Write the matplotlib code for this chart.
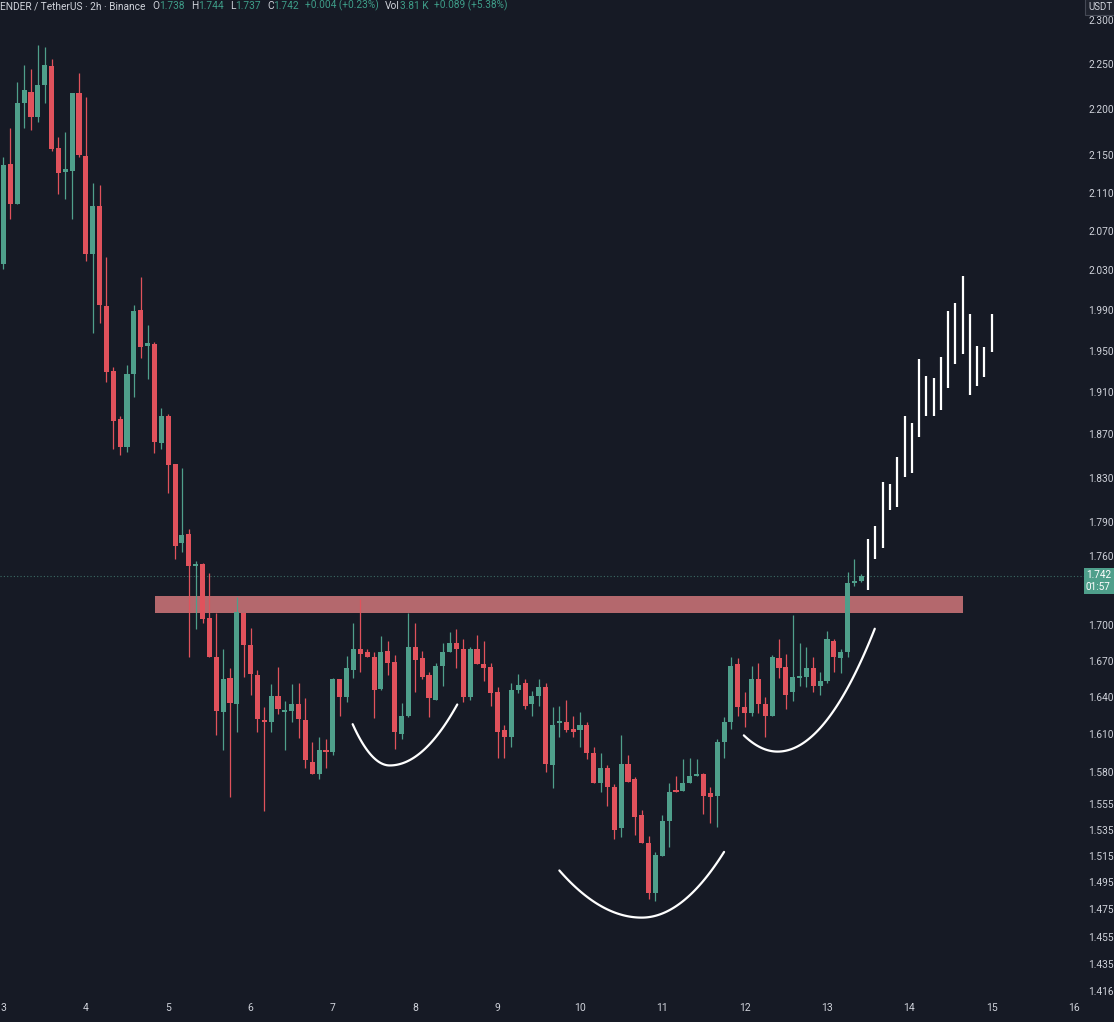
import numpy as np
import matplotlib
matplotlib.use("Agg")
import matplotlib.pyplot as plt
from matplotlib.ticker import FixedLocator, NullLocator, NullFormatter, FuncFormatter
from matplotlib.transforms import blended_transform_factory

# RENDER/USDT 2h candles, starting on day 3
opens = [2.036, 2.140, 2.098, 2.207, 2.219, 2.191, 2.226, 2.248, 2.158, 2.132,
         2.133, 2.218, 2.149, 2.046, 2.096, 1.994, 1.930, 1.884, 1.858, 1.927,
         1.990, 1.954, 1.956, 1.862, 1.887, 1.843, 1.771, 1.779, 1.751, 1.753,
         1.706, 1.673, 1.628, 1.656, 1.634, 1.710, 1.683, 1.658, 1.621, 1.620,
         1.641, 1.628, 1.629, 1.634, 1.621, 1.588, 1.578, 1.597, 1.596, 1.655,
         1.640, 1.662, 1.680, 1.677, 1.673, 1.647, 1.678, 1.669, 1.610, 1.625,
         1.682, 1.672, 1.658, 1.638, 1.666, 1.677, 1.685, 1.680, 1.640, 1.680,
         1.667, 1.665, 1.644, 1.613, 1.608, 1.646, 1.652, 1.634, 1.641, 1.648,
         1.585, 1.619, 1.620, 1.614, 1.613, 1.617, 1.595, 1.571, 1.583, 1.568,
         1.536, 1.586, 1.574, 1.546, 1.525, 1.487, 1.515, 1.542, 1.566, 1.565,
         1.571, 1.577, 1.578, 1.563, 1.561, 1.604, 1.620, 1.667, 1.632, 1.627,
         1.655, 1.634, 1.625, 1.672, 1.665, 1.644, 1.656, 1.657, 1.664, 1.649,
         1.653, 1.687, 1.672, 1.677, 1.736, 1.738]
highs = [2.148, 2.179, 2.230, 2.249, 2.244, 2.272, 2.269, 2.256, 2.169, 2.175,
         2.218, 2.240, 2.213, 2.120, 2.118, 2.043, 1.934, 1.887, 1.936, 1.995,
         2.023, 1.975, 1.958, 1.895, 1.889, 1.843, 1.839, 1.784, 1.755, 1.754,
         1.745, 1.710, 1.680, 1.664, 1.724, 1.710, 1.698, 1.662, 1.632, 1.651,
         1.665, 1.637, 1.651, 1.652, 1.639, 1.604, 1.608, 1.606, 1.656, 1.655,
         1.674, 1.702, 1.722, 1.680, 1.677, 1.691, 1.687, 1.675, 1.635, 1.710,
         1.702, 1.678, 1.661, 1.668, 1.685, 1.694, 1.697, 1.688, 1.682, 1.692,
         1.687, 1.668, 1.648, 1.617, 1.652, 1.659, 1.655, 1.645, 1.655, 1.652,
         1.632, 1.633, 1.638, 1.625, 1.628, 1.620, 1.600, 1.595, 1.585, 1.570,
         1.609, 1.593, 1.576, 1.550, 1.530, 1.518, 1.546, 1.571, 1.577, 1.590,
         1.591, 1.590, 1.579, 1.568, 1.606, 1.624, 1.673, 1.672, 1.644, 1.666,
         1.668, 1.640, 1.675, 1.688, 1.676, 1.709, 1.685, 1.682, 1.673, 1.661,
         1.695, 1.688, 1.680, 1.746, 1.757, 1.744]
lows = [2.031, 2.082, 2.098, 2.179, 2.177, 2.186, 2.207, 2.154, 2.109, 2.103,
        2.082, 2.148, 2.039, 1.967, 1.977, 1.920, 1.856, 1.851, 1.854, 1.905,
        1.943, 1.922, 1.853, 1.856, 1.816, 1.757, 1.763, 1.673, 1.697, 1.702,
        1.673, 1.609, 1.597, 1.560, 1.612, 1.657, 1.642, 1.612, 1.549, 1.612,
        1.626, 1.597, 1.620, 1.607, 1.583, 1.578, 1.574, 1.583, 1.593, 1.625,
        1.636, 1.656, 1.661, 1.673, 1.623, 1.646, 1.658, 1.598, 1.606, 1.624,
        1.644, 1.655, 1.624, 1.638, 1.649, 1.677, 1.664, 1.636, 1.638, 1.667,
        1.653, 1.633, 1.591, 1.591, 1.600, 1.643, 1.630, 1.625, 1.633, 1.580,
        1.567, 1.608, 1.612, 1.608, 1.600, 1.590, 1.571, 1.564, 1.553, 1.528,
        1.529, 1.572, 1.531, 1.525, 1.483, 1.481, 1.515, 1.522, 1.564, 1.565,
        1.571, 1.577, 1.547, 1.540, 1.537, 1.591, 1.614, 1.625, 1.616, 1.625,
        1.627, 1.608, 1.625, 1.656, 1.630, 1.637, 1.649, 1.648, 1.644, 1.642,
        1.652, 1.661, 1.660, 1.673, 1.734, 1.737]
closes = [2.139, 2.098, 2.207, 2.221, 2.191, 2.226, 2.249, 2.157, 2.131, 2.135,
          2.218, 2.150, 2.046, 2.096, 1.995, 1.929, 1.883, 1.858, 1.927, 1.989,
          1.953, 1.957, 1.863, 1.887, 1.842, 1.769, 1.778, 1.751, 1.753, 1.705,
          1.673, 1.629, 1.655, 1.635, 1.711, 1.683, 1.659, 1.622, 1.620, 1.641,
          1.630, 1.629, 1.634, 1.622, 1.589, 1.578, 1.597, 1.596, 1.655, 1.640,
          1.664, 1.680, 1.676, 1.673, 1.646, 1.677, 1.668, 1.612, 1.625, 1.682,
          1.671, 1.657, 1.639, 1.666, 1.677, 1.685, 1.680, 1.640, 1.680, 1.667,
          1.664, 1.643, 1.612, 1.608, 1.646, 1.650, 1.633, 1.641, 1.648, 1.586,
          1.617, 1.620, 1.613, 1.612, 1.617, 1.595, 1.571, 1.583, 1.568, 1.535,
          1.586, 1.572, 1.545, 1.525, 1.487, 1.516, 1.542, 1.564, 1.564, 1.571,
          1.577, 1.578, 1.561, 1.560, 1.604, 1.620, 1.666, 1.632, 1.627, 1.655,
          1.634, 1.625, 1.673, 1.664, 1.642, 1.657, 1.657, 1.664, 1.649, 1.653,
          1.688, 1.673, 1.677, 1.736, 1.738, 1.742]
first_day = 3
bars_per_day = 12
last_price = 1.742

# projected (ghost) bars drawn after the breakout
proj_highs = [1.775, 1.786, 1.826, 1.824, 1.849, 1.887, 1.881, 1.942, 1.925,
              1.923, 1.944, 1.989, 1.997, 2.024, 1.986, 1.954, 1.953, 1.986]
proj_lows = [1.730, 1.757, 1.767, 1.801, 1.803, 1.831, 1.834, 1.868, 1.887,
             1.887, 1.893, 1.914, 1.937, 1.947, 1.907, 1.916, 1.924, 1.949]
proj_start, proj_end = 13.5, 15.0

# neckline zone
zone_low, zone_high = 1.710, 1.725
zone_start, zone_end = 4.84, 14.65

# inverse head & shoulders arcs: (start, bottom, end) as (day, price)
left_shoulder = [(7.24, 1.618), (7.69, 1.585), (8.51, 1.634)]
head = [(9.75, 1.504), (10.75, 1.469), (11.75, 1.518)]
right_shoulder = [(11.99, 1.609), (12.40, 1.596), (13.58, 1.697)]

price_ticks = [1.416, 1.435, 1.455, 1.475, 1.495, 1.515, 1.535, 1.555, 1.580,
               1.610, 1.640, 1.670, 1.700, 1.760, 1.790, 1.830, 1.870, 1.910,
               1.950, 1.990, 2.030, 2.070, 2.110, 2.150, 2.200, 2.250, 2.300]
day_ticks = list(range(3, 17))

header = [("ENDER / TetherUS · 2h · Binance", "w", 0),
          ("O", "w", 7), ("1.738", "g", 0),
          ("H", "w", 6), ("1.744", "g", 0),
          ("L", "w", 6), ("1.737", "g", 0),
          ("C", "w", 6), ("1.742", "g", 0),
          ("+0.004 (+0.23%)", "g", 6),
          ("Vol", "w", 6), ("3.81 K", "g", 0),
          ("+0.089 (+5.38%)", "g", 6)]

BG = "#161a25"
GREEN = "#4f9f8b"
RED = "#e0525c"
ZONE = "#b4686d"
TXT = "#cfd2da"
HDR_G = "#3e9c88"

plt.rcParams["font.family"] = ["Roboto", "DejaVu Sans"]

fig = plt.figure(figsize=(11.14, 10.22), dpi=100, facecolor=BG)
ax = fig.add_axes([0, 27 / 1022, 1, 995 / 1022])
ax.set_facecolor(BG)
ax.set_yscale("log")

o = np.array(opens)
h = np.array(highs)
l = np.array(lows)
c = np.array(closes)
t = first_day + np.arange(len(o)) / bars_per_day
cols = np.where(c >= o, GREEN, RED)

ax.fill_between([zone_start, zone_end], zone_low, zone_high, color=ZONE, lw=0, zorder=2)
ax.axhline(last_price, color="#3b6e66", lw=0.8, ls=(0, (1, 2)), zorder=1)

ax.vlines(t, l, h, colors=cols, lw=0.9, zorder=3)
ax.bar(t, np.maximum(np.abs(c - o), 0.0012), bottom=np.minimum(o, c),
       width=0.062, color=cols, lw=0, zorder=4)

tp = np.linspace(proj_start, proj_end, len(proj_highs))
ax.vlines(tp, proj_lows, proj_highs, colors="white", lw=1.6, zorder=5)

# each arc: two half-parabolas meeting flat at the bottom point
for arc in [left_shoulder, head, right_shoulder]:
    (x0, y0), (xm, ym), (x1, y1) = [(d, np.log(p)) for d, p in arc]
    xs = np.linspace(x0, x1, 120)
    a = np.where(xs < xm, (y0 - ym) / (x0 - xm) ** 2, (y1 - ym) / (x1 - xm) ** 2)
    ys = ym + a * (xs - xm) ** 2
    ax.plot(xs, np.exp(ys), color="white", lw=1.6, solid_capstyle="round", zorder=6)

ax.set_xlim(2.9575, 16.485)
ax.set_ylim(1.4133, 2.3231)

ax.yaxis.tick_right()
ax.yaxis.set_major_locator(FixedLocator(price_ticks))
ax.yaxis.set_minor_locator(NullLocator())
ax.yaxis.set_major_formatter(FuncFormatter(lambda v, pos: f"{v:.3f}"))
ax.yaxis.set_minor_formatter(NullFormatter())
ax.tick_params(axis="y", length=0, pad=-18.5, labelsize=7.3, labelcolor=TXT)
ax.set_xticks(day_ticks)
ax.set_xticklabels([str(d) for d in day_ticks])
ax.tick_params(axis="x", length=0, pad=6, labelsize=7.5, labelcolor=TXT)
for sp in ax.spines.values():
    sp.set_visible(False)

# last price tag
tr = blended_transform_factory(ax.transAxes, ax.transData)
ax.annotate("1.742\n01:57", xy=(1, last_price), xycoords=tr,
            xytext=(-28, 6), textcoords="offset pixels", ha="left", va="top",
            fontsize=7.2, color="white", linespacing=1.15, zorder=10,
            bbox=dict(boxstyle="square,pad=0.25", fc=GREEN, ec="none"))

# currency box
fig.text(1088 / 1114, 1 - 2 / 1022, "USDT", ha="left", va="top", fontsize=7,
         color=TXT, bbox=dict(boxstyle="square,pad=0.35", fc="#1f232e",
                              ec="#454955", lw=0.8))

# header line
prev = None
for text, kind, gap in header:
    color = TXT if kind == "w" else HDR_G
    if prev is None:
        prev = fig.text(0.0, 1 - 6 / 1022, text, ha="left", va="center",
                        fontsize=7.3, color=color)
    else:
        prev = ax.annotate(text, xy=(1, 0), xycoords=prev, xytext=(gap, 0),
                           textcoords="offset pixels", ha="left", va="bottom",
                           fontsize=7.3, color=color, annotation_clip=False)

fig.savefig("out.png", dpi=100, facecolor=BG)
